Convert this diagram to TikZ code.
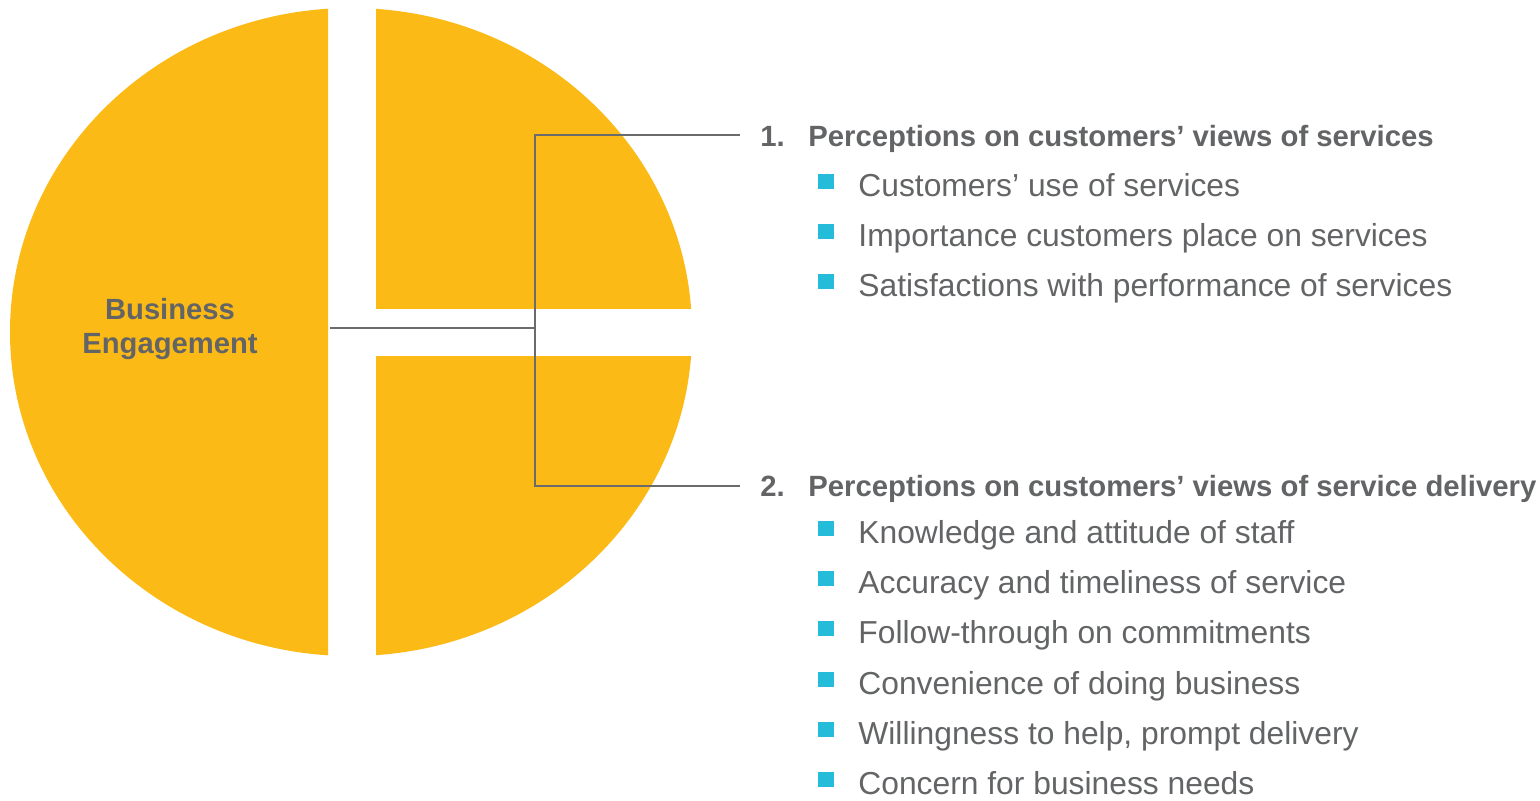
\documentclass[tikz,border=0pt]{standalone}
\usepackage{fontspec}
\setmainfont{Liberation Sans}
\definecolor{pieyellow}{HTML}{FCBA16}
\definecolor{txtgray}{HTML}{636466}
\definecolor{linegray}{HTML}{6A6B6D}
\definecolor{bulcyan}{HTML}{24BCD9}
\tikzset{
  piece/.style={fill=pieyellow},
  conn/.style={draw=linegray, line width=1.4pt},
  head/.style={anchor=base west, inner xsep=10pt, inner ysep=0pt, text=txtgray, font=\bfseries\fontsize{14.65}{17}\selectfont},
  itemtext/.style={anchor=base west, inner sep=0pt, text=txtgray, font=\fontsize{15.9}{19}\selectfont},
  bul/.style={fill=bulcyan},
  center/.style={align=center, text=txtgray, font=\bfseries\fontsize{14.6}{17}\selectfont}
}
\begin{document}
\begin{tikzpicture}[x=0.5pt,y=-0.5pt]
\useasboundingbox (0,0) rectangle (1540,800);
% pie pieces
\begin{scope}
  \clip (0,0) rectangle (328,700);
  \fill[piece] (351,332) ellipse [x radius=341, y radius=324];
\end{scope}
\begin{scope}
  \clip (376,0) rectangle (720,308);
  \fill[piece] (351,332) ellipse [x radius=341, y radius=324];
\end{scope}
\begin{scope}
  \clip (376,356) rectangle (720,700);
  \fill[piece] (351,332) ellipse [x radius=341, y radius=324];
\end{scope}
\node[center] (be) at (170,329) {Business\\Engagement};
% headings
\node[head] (h1) at (740,146) {\makebox[24pt][l]{1.}Perceptions on customers’ views of services};
\node[head] (h2) at (740,496) {\makebox[24pt][l]{2.}Perceptions on customers’ views of service delivery};
% connectors
\coordinate (L) at (330,328);
\coordinate (J) at (535,328);
\coordinate (t1) at (535,135);
\coordinate (t2) at (535,486);
\draw[conn] (L) -- (J);
\draw[conn] (t1 -| h1.west) -- (t1) -- (t2) -- (t2 -| h2.west);
% items
\foreach \y/\t/\n in {196/{Customers’ use of services}/a1,
                      246/{Importance customers place on services}/a2,
                      296/{Satisfactions with performance of services}/a3,
                      543/{Knowledge and attitude of staff}/b1,
                      593/{Accuracy and timeliness of service}/b2,
                      643/{Follow-through on commitments}/b3,
                      694/{Convenience of doing business}/b4,
                      744/{Willingness to help, prompt delivery}/b5,
                      794/{Concern for business needs}/b6}{
  \fill[bul] (818,\y-22) rectangle (834,\y-7);
  \node[itemtext] (\n) at (858,\y) {\t};
}
\end{tikzpicture}
\end{document}
